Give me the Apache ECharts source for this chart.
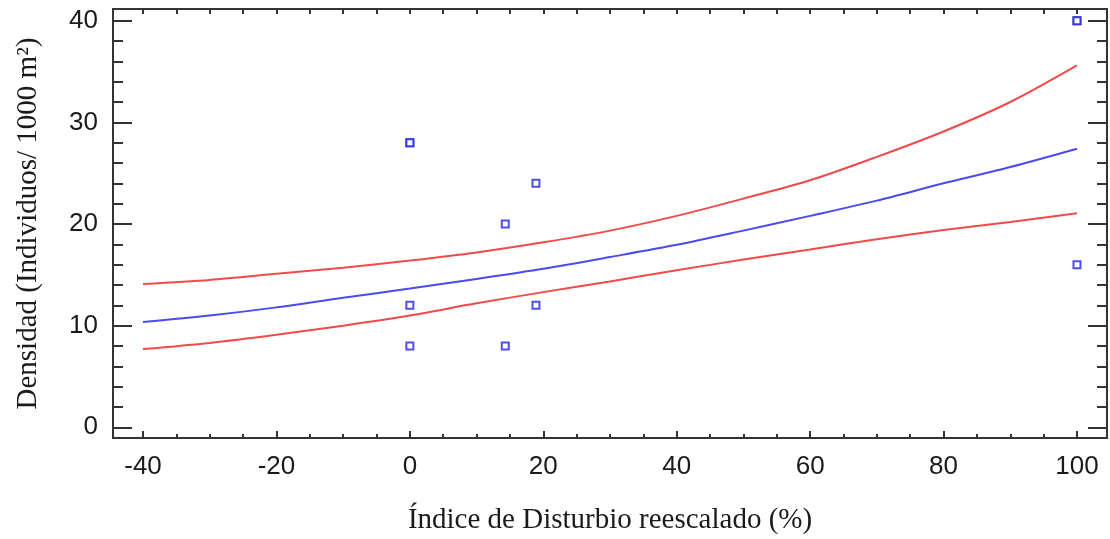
<!DOCTYPE html>
<html>
<head>
<meta charset="utf-8">
<script src="https://cdn.jsdelivr.net/npm/echarts@6/dist/echarts.min.js"></script>
<style>
  html, body { margin: 0; padding: 0; background: #ffffff; }
  #chart { width: 1110px; height: 539px; }
</style>
</head>
<body>
<div id="chart"></div>
<script>
// Fitted density curve and its confidence band, sampled along the disturbance index
const fitX     = [-40, -30, -20, -10, 0, 10, 20, 30, 40, 50, 60, 70, 80, 90, 100];
const fitMid   = [10.35, 11.0, 11.8, 12.75, 13.65, 14.6, 15.6, 16.75, 17.95, 19.35, 20.8, 22.3, 24.0, 25.6, 27.4];
const fitUpper = [14.1, 14.5, 15.1, 15.7, 16.4, 17.2, 18.2, 19.35, 20.8, 22.5, 24.3, 26.6, 29.1, 32.0, 35.6];
const fitLower = [7.7, 8.3, 9.1, 10.0, 11.0, 12.2, 13.3, 14.35, 15.45, 16.5, 17.5, 18.5, 19.4, 20.2, 21.05];

// Observed sites (disturbance index, density)
const obsX = [0, 0, 0, 0, 14.3, 14.3, 18.9, 18.9, 100, 100, 100];
const obsY = [28, 28, 12, 8, 20, 8, 24, 12, 40, 40, 16];

// Tick labels
const xTicks = [-40, -20, 0, 20, 40, 60, 80, 100];
const yTicks = [0, 10, 20, 30, 40];

const X_MIN = -44.5, X_MAX = 104.5;
const Y_MIN = -1.05, Y_MAX = 41.15;

const xMinor = [];
for (let v = -40; v <= 100; v += 5) if (xTicks.indexOf(v) < 0) xMinor.push(v);
const xAll = xTicks.concat(xMinor);
const yMinor = [];
for (let v = 0; v <= 40; v += 2) if (yTicks.indexOf(v) < 0) yMinor.push(v);

const AX = '#333333';
const TXT = '#1a1a1a';

function pairs(xs, ys) { return xs.map((x, i) => [x, ys[i]]); }

function xAxisDef(pos, tickVals, len, opts) {
  return Object.assign({
    type: 'value', position: pos, min: X_MIN, max: X_MAX,
    axisLine: { show: true, onZero: false, lineStyle: { color: AX, width: 2 } },
    axisTick: { show: true, inside: true, length: len, customValues: tickVals, lineStyle: { color: AX, width: 2 } },
    axisLabel: { show: false },
    splitLine: { show: false }
  }, opts || {});
}
function yAxisDef(pos, tickVals, len, opts) {
  return Object.assign({
    type: 'value', position: pos, min: Y_MIN, max: Y_MAX,
    axisLine: { show: true, onZero: false, lineStyle: { color: AX, width: 2 } },
    axisTick: { show: true, inside: true, length: len, customValues: tickVals, lineStyle: { color: AX, width: 2 } },
    axisLabel: { show: false },
    splitLine: { show: false }
  }, opts || {});
}

const chart = echarts.init(document.getElementById('chart'));
chart.setOption({
  animation: false,
  backgroundColor: '#ffffff',
  grid: { left: 113, right: 3, top: 9, bottom: 101, containLabel: false, outerBoundsMode: 'none' },
  xAxis: [
    xAxisDef('bottom', xTicks, 7, {
      axisLabel: { show: true, customValues: xTicks, fontSize: 26, color: TXT, fontFamily: 'Liberation Sans', margin: 16 },
      name: 'Índice de Disturbio reescalado (%)',
      nameLocation: 'middle', nameGap: 68,
      nameTextStyle: { fontSize: 29, color: TXT, fontFamily: 'Liberation Serif' }
    }),
    xAxisDef('bottom', xMinor, 4, { axisLine: { show: false, onZero: false } }),
    xAxisDef('top', xAll, 5)
  ],
  yAxis: [
    yAxisDef('left', yTicks, 19, {
      axisLabel: { show: true, customValues: yTicks, fontSize: 26, color: TXT, fontFamily: 'Liberation Sans', margin: 15 },
      name: 'Densidad (Individuos/ 1000 m²)',
      nameLocation: 'middle', nameGap: 70, nameRotate: 90,
      nameTextStyle: { fontSize: 29, color: TXT, fontFamily: 'Liberation Serif' }
    }),
    yAxisDef('left', yMinor, 10, { axisLine: { show: false, onZero: false } }),
    yAxisDef('right', yTicks, 19),
    yAxisDef('right', yMinor, 10, { axisLine: { show: false, onZero: false } })
  ],
  series: [
    {
      type: 'line', name: 'upper', data: pairs(fitX, fitUpper), smooth: 0.3, showSymbol: false,
      lineStyle: { color: '#f04a4a', width: 2 }, z: 2
    },
    {
      type: 'line', name: 'fit', data: pairs(fitX, fitMid), smooth: 0.3, showSymbol: false,
      lineStyle: { color: '#4a4af0', width: 2 }, z: 2
    },
    {
      type: 'line', name: 'lower', data: pairs(fitX, fitLower), smooth: 0.3, showSymbol: false,
      lineStyle: { color: '#f04a4a', width: 2 }, z: 2
    },
    {
      type: 'scatter', name: 'obs', data: pairs(obsX, obsY), symbol: 'rect', symbolSize: 7,
      itemStyle: { color: '#ffffff', borderColor: '#2323e0', borderWidth: 2 }, z: 3
    }
  ]
});
</script>
</body>
</html>
